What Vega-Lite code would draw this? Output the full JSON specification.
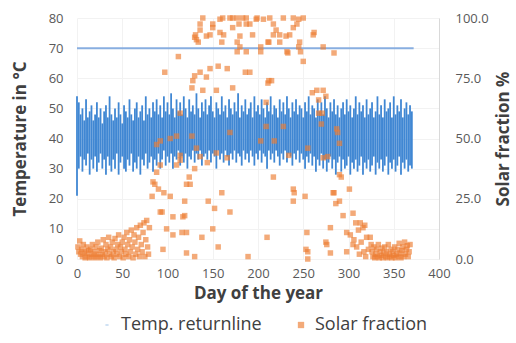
{
 "$schema": "https://vega.github.io/schema/vega-lite/v6.json",
 "width": 362, "height": 241,
 "autosize": {"type": "none"},
 "padding": {"left": 77, "top": 18, "right": 77, "bottom": 84},
 "background": "white",
 "config": {"view": {"stroke": null}, "font": "Open Sans",
   "axis": {"labelFontSize": 13, "labelColor": "#595959", "titleFontSize": 17, "titleFontWeight": "bold", "titleColor": "#404040", "ticks": false, "domain": false, "gridColor": "#f2f2f2", "labelOverlap": false, "labelFlush": false}},
 "datasets": {
  "temp": [
   {"day":0,"lo":21,"hi":54},{"day":2,"lo":30,"hi":52},{"day":4,"lo":34,"hi":48},{"day":6,"lo":29,"hi":50},{"day":8,"lo":33,"hi":46},{"day":10,"lo":31,"hi":53},{"day":12,"lo":35,"hi":47},{"day":14,"lo":28,"hi":49},{"day":16,"lo":33,"hi":51},{"day":18,"lo":30,"hi":46},
   {"day":20,"lo":34,"hi":48},{"day":22,"lo":29,"hi":52},{"day":24,"lo":32,"hi":47},{"day":26,"lo":35,"hi":50},{"day":28,"lo":30,"hi":45},{"day":30,"lo":33,"hi":49},{"day":32,"lo":28,"hi":51},{"day":34,"lo":34,"hi":47},{"day":36,"lo":31,"hi":54},{"day":38,"lo":29,"hi":48},
   {"day":40,"lo":33,"hi":46},{"day":42,"lo":30,"hi":50},{"day":44,"lo":35,"hi":47},{"day":46,"lo":28,"hi":52},{"day":48,"lo":32,"hi":48},{"day":50,"lo":34,"hi":45},{"day":52,"lo":30,"hi":51},{"day":54,"lo":29,"hi":49},{"day":56,"lo":33,"hi":47},{"day":58,"lo":31,"hi":53},
   {"day":60,"lo":35,"hi":48},{"day":62,"lo":29,"hi":46},{"day":64,"lo":32,"hi":50},{"day":66,"lo":30,"hi":52},{"day":68,"lo":34,"hi":47},{"day":70,"lo":28,"hi":49},{"day":72,"lo":33,"hi":51},{"day":74,"lo":31,"hi":46},{"day":76,"lo":35,"hi":54},{"day":78,"lo":30,"hi":48},
   {"day":80,"lo":32,"hi":50},{"day":82,"lo":34,"hi":47},{"day":84,"lo":29,"hi":52},{"day":86,"lo":33,"hi":49},{"day":88,"lo":31,"hi":53},{"day":90,"lo":35,"hi":48},{"day":92,"lo":30,"hi":51},{"day":94,"lo":33,"hi":47},{"day":96,"lo":36,"hi":54},{"day":98,"lo":31,"hi":49},
   {"day":100,"lo":34,"hi":52},{"day":102,"lo":32,"hi":48},{"day":104,"lo":35,"hi":55},{"day":106,"lo":30,"hi":50},{"day":108,"lo":34,"hi":47},{"day":110,"lo":33,"hi":53},{"day":112,"lo":36,"hi":49},{"day":114,"lo":31,"hi":52},{"day":116,"lo":34,"hi":48},{"day":118,"lo":32,"hi":54},
   {"day":120,"lo":35,"hi":50},{"day":122,"lo":30,"hi":47},{"day":124,"lo":34,"hi":53},{"day":126,"lo":33,"hi":49},{"day":128,"lo":36,"hi":51},{"day":130,"lo":32,"hi":48},{"day":132,"lo":35,"hi":55},{"day":134,"lo":33,"hi":50},{"day":136,"lo":36,"hi":47},{"day":138,"lo":31,"hi":52},
   {"day":140,"lo":34,"hi":49},{"day":142,"lo":35,"hi":53},{"day":144,"lo":33,"hi":48},{"day":146,"lo":36,"hi":51},{"day":148,"lo":32,"hi":54},{"day":150,"lo":35,"hi":49},{"day":152,"lo":34,"hi":47},{"day":154,"lo":30,"hi":52},{"day":156,"lo":36,"hi":50},{"day":158,"lo":33,"hi":48},
   {"day":160,"lo":35,"hi":54},{"day":162,"lo":32,"hi":49},{"day":164,"lo":36,"hi":51},{"day":166,"lo":34,"hi":47},{"day":168,"lo":31,"hi":53},{"day":170,"lo":35,"hi":50},{"day":172,"lo":33,"hi":48},{"day":174,"lo":36,"hi":52},{"day":176,"lo":32,"hi":49},{"day":178,"lo":35,"hi":55},
   {"day":180,"lo":34,"hi":47},{"day":182,"lo":31,"hi":51},{"day":184,"lo":36,"hi":49},{"day":186,"lo":33,"hi":53},{"day":188,"lo":35,"hi":48},{"day":190,"lo":32,"hi":50},{"day":192,"lo":36,"hi":52},{"day":194,"lo":34,"hi":47},{"day":196,"lo":31,"hi":54},{"day":198,"lo":35,"hi":49},
   {"day":200,"lo":33,"hi":51},{"day":202,"lo":36,"hi":48},{"day":204,"lo":32,"hi":53},{"day":206,"lo":35,"hi":50},{"day":208,"lo":34,"hi":47},{"day":210,"lo":30,"hi":52},{"day":212,"lo":36,"hi":49},{"day":214,"lo":33,"hi":54},{"day":216,"lo":35,"hi":48},{"day":218,"lo":32,"hi":51},
   {"day":220,"lo":36,"hi":50},{"day":222,"lo":34,"hi":47},{"day":224,"lo":31,"hi":53},{"day":226,"lo":35,"hi":49},{"day":228,"lo":33,"hi":52},{"day":230,"lo":36,"hi":48},{"day":232,"lo":32,"hi":54},{"day":234,"lo":35,"hi":50},{"day":236,"lo":34,"hi":47},{"day":238,"lo":31,"hi":52},
   {"day":240,"lo":35,"hi":49},{"day":242,"lo":33,"hi":53},{"day":244,"lo":36,"hi":48},{"day":246,"lo":32,"hi":51},{"day":248,"lo":35,"hi":50},{"day":250,"lo":33,"hi":47},{"day":252,"lo":30,"hi":52},{"day":254,"lo":34,"hi":49},{"day":256,"lo":32,"hi":54},{"day":258,"lo":35,"hi":48},
   {"day":260,"lo":31,"hi":51},{"day":262,"lo":34,"hi":50},{"day":264,"lo":29,"hi":47},{"day":266,"lo":33,"hi":53},{"day":268,"lo":31,"hi":49},{"day":270,"lo":35,"hi":52},{"day":272,"lo":30,"hi":48},{"day":274,"lo":33,"hi":54},{"day":276,"lo":29,"hi":50},{"day":278,"lo":32,"hi":47},
   {"day":280,"lo":34,"hi":52},{"day":282,"lo":30,"hi":49},{"day":284,"lo":33,"hi":53},{"day":286,"lo":28,"hi":48},{"day":288,"lo":32,"hi":51},{"day":290,"lo":34,"hi":47},{"day":292,"lo":29,"hi":50},{"day":294,"lo":33,"hi":52},{"day":296,"lo":30,"hi":48},{"day":298,"lo":31,"hi":53},
   {"day":300,"lo":34,"hi":49},{"day":302,"lo":28,"hi":51},{"day":304,"lo":32,"hi":47},{"day":306,"lo":30,"hi":50},{"day":308,"lo":33,"hi":54},{"day":310,"lo":29,"hi":48},{"day":312,"lo":31,"hi":52},{"day":314,"lo":34,"hi":49},{"day":316,"lo":28,"hi":51},{"day":318,"lo":32,"hi":47},
   {"day":320,"lo":30,"hi":53},{"day":322,"lo":33,"hi":48},{"day":324,"lo":29,"hi":50},{"day":326,"lo":31,"hi":52},{"day":328,"lo":34,"hi":47},{"day":330,"lo":28,"hi":49},{"day":332,"lo":32,"hi":54},{"day":334,"lo":30,"hi":48},{"day":336,"lo":33,"hi":51},{"day":338,"lo":29,"hi":47},
   {"day":340,"lo":31,"hi":53},{"day":342,"lo":34,"hi":49},{"day":344,"lo":28,"hi":50},{"day":346,"lo":32,"hi":52},{"day":348,"lo":30,"hi":47},{"day":350,"lo":33,"hi":54},{"day":352,"lo":29,"hi":48},{"day":354,"lo":31,"hi":51},{"day":356,"lo":34,"hi":49},{"day":358,"lo":28,"hi":53},
   {"day":360,"lo":32,"hi":47},{"day":362,"lo":30,"hi":50},{"day":364,"lo":33,"hi":52},{"day":366,"lo":29,"hi":48},{"day":368,"lo":31,"hi":51},{"day":370,"lo":30,"hi":49}
  ],
  "limit": [{"day": 0, "t": 70}, {"day": 372, "t": 70}],
  "solar": [
   {"day":1,"sf":5},{"day":2,"sf":3},{"day":3,"sf":7.5},{"day":4,"sf":2},{"day":5,"sf":4},{"day":6,"sf":1},{"day":7,"sf":6},{"day":8,"sf":3},{"day":9,"sf":0.5},{"day":10,"sf":2.5},
   {"day":11,"sf":5},{"day":12,"sf":1},{"day":13,"sf":3.5},{"day":14,"sf":0.5},{"day":15,"sf":4},{"day":16,"sf":2},{"day":17,"sf":6},{"day":18,"sf":1},{"day":19,"sf":3},{"day":20,"sf":0.5},
   {"day":21,"sf":5},{"day":22,"sf":2},{"day":23,"sf":7},{"day":24,"sf":1},{"day":25,"sf":3.5},{"day":26,"sf":0.5},{"day":27,"sf":4.5},{"day":28,"sf":2},{"day":29,"sf":8},{"day":30,"sf":1},
   {"day":31,"sf":3},{"day":32,"sf":6},{"day":33,"sf":0.5},{"day":34,"sf":4},{"day":35,"sf":9},{"day":36,"sf":2},{"day":37,"sf":5},{"day":38,"sf":1},{"day":39,"sf":7},{"day":40,"sf":3},
   {"day":41,"sf":0.5},{"day":42,"sf":8.5},{"day":43,"sf":4},{"day":44,"sf":2},{"day":45,"sf":6},{"day":46,"sf":10},{"day":47,"sf":1},{"day":48,"sf":5},{"day":49,"sf":3},{"day":50,"sf":7},
   {"day":51,"sf":0.5},{"day":52,"sf":9},{"day":53,"sf":4},{"day":54,"sf":2},{"day":55,"sf":11},{"day":56,"sf":6},{"day":57,"sf":1},{"day":58,"sf":8},{"day":59,"sf":3},{"day":60,"sf":12},
   {"day":61,"sf":5},{"day":62,"sf":0.5},{"day":63,"sf":10},{"day":64,"sf":7},{"day":65,"sf":2},{"day":66,"sf":13},{"day":67,"sf":4},{"day":68,"sf":9},{"day":69,"sf":1},{"day":70,"sf":14},
   {"day":71,"sf":6},{"day":72,"sf":3},{"day":73,"sf":11},{"day":74,"sf":15},{"day":75,"sf":1},{"day":76,"sf":8},{"day":77,"sf":16},{"day":78,"sf":5},{"day":79,"sf":2},{"day":80,"sf":13},
   {"day":84,"sf":32},{"day":86,"sf":31},{"day":121,"sf":31},{"day":83,"sf":26},{"day":103,"sf":26},{"day":119,"sf":24},{"day":92,"sf":19.5},{"day":119,"sf":18},{"day":106,"sf":17.5},{"day":99,"sf":12.5},
   {"day":121,"sf":11},{"day":106,"sf":10},{"day":121,"sf":2.5},{"day":95,"sf":4},{"day":88,"sf":47.5},{"day":103,"sf":50},{"day":114,"sf":43},{"day":132,"sf":46},{"day":92,"sf":39},{"day":110,"sf":39},
   {"day":88,"sf":36},{"day":90,"sf":29},{"day":96,"sf":27.5},{"day":124,"sf":34},{"day":145,"sf":24},{"day":152,"sf":21},{"day":160,"sf":27.5},{"day":169,"sf":19.5},{"day":150,"sf":12.5},{"day":138,"sf":9},
   {"day":156,"sf":5},{"day":130,"sf":1},{"day":189,"sf":1},{"day":116,"sf":11},{"day":94,"sf":19.5},{"day":117,"sf":17.5},{"day":217,"sf":34},{"day":239,"sf":29},{"day":239,"sf":24},{"day":252,"sf":26},
   {"day":166,"sf":42},{"day":144,"sf":40},{"day":130,"sf":37.5},{"day":210,"sf":9},{"day":254,"sf":11},{"day":255,"sf":3},{"day":255,"sf":0},{"day":125,"sf":31},{"day":272,"sf":42},{"day":290,"sf":35},
   {"day":283,"sf":27.5},{"day":301,"sf":29},{"day":290,"sf":24},{"day":294,"sf":18},{"day":305,"sf":19},{"day":313,"sf":15},{"day":280,"sf":13},{"day":298,"sf":11},{"day":318,"sf":14},{"day":324,"sf":9},
   {"day":276,"sf":6},{"day":305,"sf":6},{"day":298,"sf":3},{"day":280,"sf":2.5},{"day":292,"sf":34},{"day":284,"sf":27.5},{"day":286,"sf":23},{"day":308,"sf":15},{"day":316,"sf":13},{"day":275,"sf":7},
   {"day":253,"sf":4},{"day":240,"sf":27.5},
   {"day":92,"sf":49},{"day":110,"sf":51},{"day":127,"sf":51},{"day":169,"sf":52.5},{"day":154,"sf":44},{"day":136,"sf":42.5},{"day":114,"sf":60.5},{"day":114,"sf":41},{"day":209,"sf":65},{"day":209,"sf":55},
   {"day":228,"sf":55},{"day":218,"sf":49},{"day":267,"sf":60.5},{"day":270,"sf":56},{"day":288,"sf":52.5},{"day":290,"sf":48},{"day":277,"sf":42.5},{"day":255,"sf":46},{"day":234,"sf":43},{"day":203,"sf":49},
   {"day":271,"sf":60.5},{"day":287,"sf":54},
   {"day":112,"sf":84},{"day":97,"sf":77.5},{"day":128,"sf":74},{"day":136,"sf":77.5},{"day":147,"sf":79},{"day":156,"sf":80},{"day":166,"sf":79},{"day":143,"sf":75.5},{"day":127,"sf":71},{"day":154,"sf":70},
   {"day":130,"sf":76},{"day":186,"sf":77.5},{"day":191,"sf":77.5},{"day":215,"sf":74},{"day":139,"sf":70},{"day":172,"sf":71},{"day":211,"sf":73},{"day":260,"sf":69},{"day":212,"sf":74},{"day":272,"sf":70},
   {"day":275,"sf":67.5},{"day":267,"sf":66},{"day":265,"sf":70},{"day":250,"sf":82},{"day":233,"sf":85.5},{"day":284,"sf":85.5},
   {"day":136,"sf":95},{"day":143,"sf":92.5},{"day":150,"sf":96},{"day":158,"sf":94},{"day":172,"sf":96},{"day":180,"sf":92.5},{"day":191,"sf":97.5},{"day":158,"sf":99.5},{"day":172,"sf":100},{"day":187,"sf":100},
   {"day":198,"sf":99.5},{"day":132,"sf":91},{"day":180,"sf":88},{"day":187,"sf":86},{"day":206,"sf":99.5},{"day":228,"sf":100},{"day":245,"sf":99.5},{"day":220,"sf":95},{"day":239,"sf":96},{"day":262,"sf":94},
   {"day":231,"sf":92.5},{"day":212,"sf":90},{"day":245,"sf":88},{"day":272,"sf":88},{"day":203,"sf":88},{"day":261,"sf":93},{"day":130,"sf":92},
   {"day":139,"sf":100},{"day":161,"sf":100},{"day":169,"sf":100},{"day":177,"sf":100},{"day":183,"sf":100},{"day":199,"sf":100},{"day":213,"sf":100},{"day":239,"sf":100},{"day":250,"sf":100},
   {"day":136,"sf":97.5},{"day":150,"sf":97.5},{"day":179,"sf":97.5},{"day":187,"sf":97.5},{"day":217,"sf":97.5},{"day":243,"sf":97.5},
   {"day":131,"sf":93},{"day":147,"sf":93},{"day":162,"sf":93},{"day":194,"sf":93},{"day":217,"sf":93},{"day":224,"sf":93},{"day":235,"sf":93},
   {"day":134,"sf":90},{"day":160,"sf":90},{"day":177,"sf":90},{"day":211,"sf":90},{"day":224,"sf":90},{"day":246,"sf":90},
   {"day":177,"sf":86},{"day":203,"sf":86},{"day":232,"sf":86},{"day":247,"sf":86},
   {"day":302,"sf":10},{"day":306,"sf":8},{"day":309,"sf":5},{"day":311,"sf":12},{"day":312,"sf":2},{"day":314,"sf":7},{"day":317,"sf":3},{"day":319,"sf":1},{"day":320,"sf":9},{"day":322,"sf":4},{"day":325,"sf":6},
   {"day":326,"sf":3},{"day":327,"sf":1},{"day":328,"sf":5},{"day":329,"sf":0.5},{"day":330,"sf":2},{"day":331,"sf":4},{"day":332,"sf":1},{"day":333,"sf":6},{"day":334,"sf":0.5},{"day":335,"sf":3},
   {"day":336,"sf":1.5},{"day":337,"sf":4.5},{"day":338,"sf":0.5},{"day":339,"sf":2.5},{"day":340,"sf":5},{"day":341,"sf":1},{"day":342,"sf":3},{"day":343,"sf":0.5},{"day":344,"sf":6},{"day":345,"sf":2},
   {"day":346,"sf":1},{"day":347,"sf":4},{"day":348,"sf":0.5},{"day":349,"sf":3},{"day":350,"sf":1.5},{"day":351,"sf":5},{"day":352,"sf":0.5},{"day":353,"sf":2},{"day":354,"sf":4},{"day":355,"sf":1},
   {"day":356,"sf":6.5},{"day":357,"sf":2.5},{"day":358,"sf":0.5},{"day":359,"sf":3.5},{"day":360,"sf":5},{"day":361,"sf":1},{"day":362,"sf":7},{"day":363,"sf":2},{"day":364,"sf":4},{"day":365,"sf":5.5},
   {"day":366,"sf":1},{"day":367,"sf":3},{"day":368,"sf":6}
  ]
 },
 "layer": [
  {
   "layer": [
    {
     "data": {"name": "temp"},
     "mark": {"type": "rule", "strokeWidth": 1.8, "color": "#4087D3"},
     "encoding": {
      "x": {"field": "day", "type": "quantitative", "scale": {"domain": [0, 400]},
            "axis": {"values": [0,50,100,150,200,250,300,350,400], "title": "Day of the year", "labelPadding": 8, "titlePadding": 5, "grid": true}},
      "y": {"field": "lo", "type": "quantitative", "scale": {"domain": [0, 80]},
            "axis": {"values": [0,10,20,30,40,50,60,70,80], "title": "Temperature in °C", "labelPadding": 14, "titlePadding": 19, "grid": true}},
      "y2": {"field": "hi"}
     }
    },
    {
     "data": {"name": "limit"},
     "mark": {"type": "line", "color": "#88AEE0", "strokeWidth": 2},
     "encoding": {
      "x": {"field": "day", "type": "quantitative",
            "axis": {"values": [0,50,100,150,200,250,300,350,400], "title": "Day of the year", "labelPadding": 8, "titlePadding": 5, "grid": true}},
      "y": {"field": "t", "type": "quantitative",
            "axis": {"values": [0,10,20,30,40,50,60,70,80], "title": "Temperature in °C", "labelPadding": 14, "titlePadding": 19, "grid": true}}
     }
    }
   ]
  },
  {
   "data": {"name": "solar"},
   "mark": {"type": "point", "filled": true, "size": 30, "opacity": 0.65},
   "encoding": {
    "x": {"field": "day", "type": "quantitative",
          "axis": {"values": [0,50,100,150,200,250,300,350,400], "title": "Day of the year", "labelPadding": 8, "titlePadding": 5, "grid": true}},
    "y": {"field": "sf", "type": "quantitative", "scale": {"domain": [0, 100]},
          "axis": {"orient": "right", "values": [0,25,50,75,100], "format": ".1f", "title": "Solar fraction %", "titleAngle": 270, "domain": true, "domainColor": "#d9d9d9", "labelPadding": 16, "titlePadding": 24, "grid": false}},
    "shape": {"datum": "Solar fraction", "type": "nominal",
      "scale": {"domain": ["Temp. returnline", "Solar fraction"], "range": ["M-0.5,-0.12H0.5V0.12H-0.5Z", "square"]},
      "legend": {"orient": "none", "legendX": 21, "legendY": 298, "direction": "horizontal", "title": null,
        "labelFontSize": 18, "labelColor": "#404040", "symbolSize": 40, "columnPadding": 30, "labelOffset": 5}},
    "color": {"datum": "Solar fraction", "type": "nominal",
      "scale": {"domain": ["Temp. returnline", "Solar fraction"], "range": ["#4087D3", "#ED7D31"]},
      "legend": {"orient": "none", "legendX": 21, "legendY": 298, "direction": "horizontal", "title": null,
        "labelFontSize": 18, "labelColor": "#404040", "symbolSize": 40, "columnPadding": 30, "labelOffset": 5}}
   }
  }
 ],
 "resolve": {"scale": {"y": "independent"}}
}
